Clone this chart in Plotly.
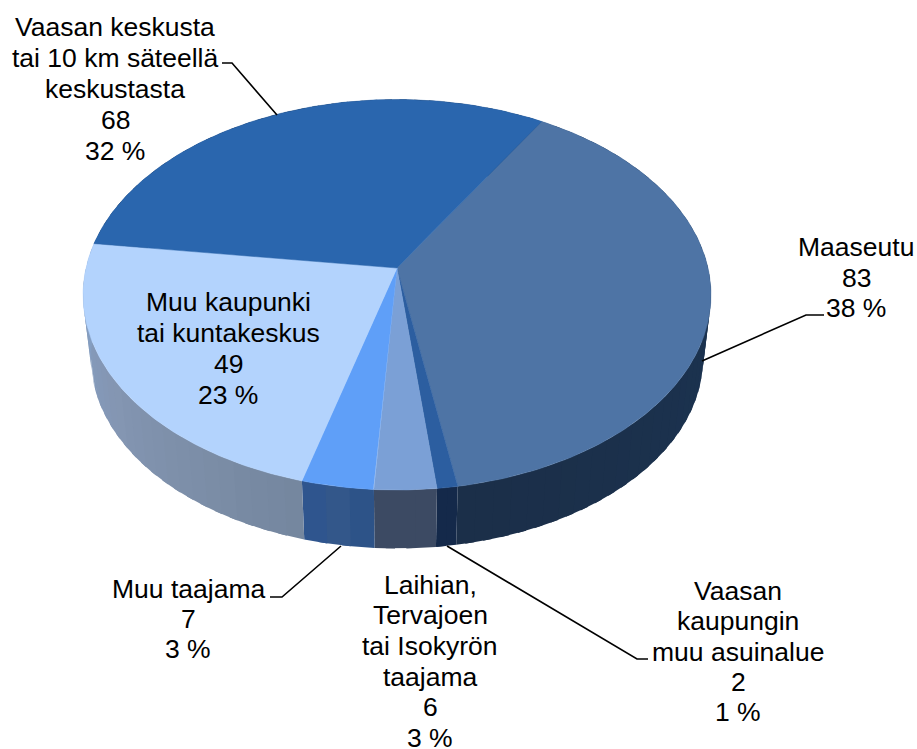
import numpy as np
import plotly.graph_objects as go

# Data (clockwise from the Maaseutu edge)
categories = ["Maaseutu", "Vaasan kaupungin muu asuinalue",
              "Laihian, Tervajoen tai Isokyrön taajama", "Muu taajama",
              "Muu kaupunki tai kuntakeskus",
              "Vaasan keskusta tai 10 km säteellä keskustasta"]
values = [83, 2, 6, 7, 49, 68]
percents = ["38 %", "1 %", "3 %", "3 %", "23 %", "32 %"]
label_lines = [
    ["Maaseutu"],
    ["Vaasan", "kaupungin", "muu asuinalue"],
    ["Laihian,", "Tervajoen", "tai Isokyrön", "taajama"],
    ["Muu taajama"],
    ["Muu kaupunki", "tai kuntakeskus"],
    ["Vaasan keskusta", "tai 10 km säteellä", "keskustasta"],
]

# Style
top_colors = ["#4e74a5", "#2c5ea0", "#7ba0d6", "#5f9ff8", "#b3d3fd", "#2a66ae"]
side_stops = [
    ["#1e3a5c", "#1c3350", "#1b2f49"],
    ["#14294a", "#14294a"],
    ["#3c4a63", "#3c4a63"],
    ["#2b5288", "#33578a", "#2d5590"],
    ["#75879f", "#8496b2", "#86a3c9"],
    ["#1c3350", "#1c3350"],
]
label_pos = [(856, 247, 30.5), (738, 591, 30.3), (430, 584.5, 30.7), (188, 589, 30), (228, 302, 31), (115, 27, 31)]
leaders = [
    ([222, 232, 277], [63, 63, 115]),
    ([824, 806, 702], [315, 315, 361]),
    ([648, 637, 447], [659, 659, 546]),
    ([270, 282, 341], [597, 597, 546]),
]
CX, CY, RX, RY, K = 397, 268, 311, 191.6, 0.137
START = 31.3
BOTTOM_DY, BOTTOM_S = 64, 0.975
FONT = "Liberation Sans"
FS = 26.5


def proj(theta_deg, dy=0.0, s=1.0):
    t = np.radians(theta_deg)
    u, v = np.sin(t), np.cos(t)
    w = 1 + K * v
    return CX + s * RX * u / w, CY + dy - s * RY * v / w


def mix(stops, f):
    rgb = [np.array([int(c[i:i + 2], 16) for i in (1, 3, 5)], float) for c in stops]
    p = f * (len(rgb) - 1)
    i = min(int(p), len(rgb) - 2)
    c = rgb[i] + (rgb[i + 1] - rgb[i]) * (p - i)
    return "rgb(%d,%d,%d)" % tuple(c)


cum = START + np.concatenate([[0], np.cumsum(values)]) * 360 / sum(values)
fig = go.Figure()

# side walls: overlapping strips so no seams appear
for i in range(len(values)):
    a0, a1 = cum[i], cum[i + 1]
    n = max(2, int((a1 - a0) / 3))
    edges = np.linspace(a0, a1, n + 1)
    for j in range(n):
        t = np.linspace(edges[j], min(edges[j + 1] + 1.5, a1), 6)
        xt, yt = proj(t)
        xb, yb = proj(t[::-1], BOTTOM_DY, BOTTOM_S)
        col = mix(side_stops[i], (j + 0.5) / n)
        fig.add_trace(go.Scatter(x=np.r_[xt, xb], y=np.r_[yt, yb], mode="lines", fill="toself",
                                 fillcolor=col, line=dict(width=0),
                                 hoverinfo="skip", showlegend=False))

# top faces
for i in range(len(values)):
    t = np.linspace(cum[i], cum[i + 1], 120)
    x, y = proj(t)
    fig.add_trace(go.Scatter(x=np.r_[CX, x, CX], y=np.r_[CY, y, CY], mode="lines", fill="toself",
                             fillcolor=top_colors[i], line=dict(color=top_colors[i], width=0.5),
                             name=categories[i], hoverinfo="name", showlegend=False))

# leader lines
for lx, ly in leaders:
    fig.add_trace(go.Scatter(x=lx, y=ly, mode="lines", line=dict(color="black", width=1.6),
                             hoverinfo="skip", showlegend=False))

# labels, one annotation per line for exact leading
for i in range(len(values)):
    x0, y0, dy = label_pos[i]
    lines = label_lines[i] + [str(values[i]), percents[i]]
    for k, s in enumerate(lines):
        fig.add_annotation(x=x0, y=y0 + k * dy, text=s, showarrow=False, xanchor="center",
                           yanchor="middle", font=dict(family=FONT, size=FS, color="black"))

fig.update_xaxes(visible=False, range=[0, 917], fixedrange=True)
fig.update_yaxes(visible=False, range=[749, 0], fixedrange=True)
fig.update_layout(width=917, height=749, margin=dict(l=0, r=0, t=0, b=0), autosize=False,
                  plot_bgcolor="white", paper_bgcolor="white", showlegend=False)
fig.write_html("out.html", config={"displayModeBar": False},
               post_script="document.body.style.margin='0';document.documentElement.style.overflow='hidden';")
